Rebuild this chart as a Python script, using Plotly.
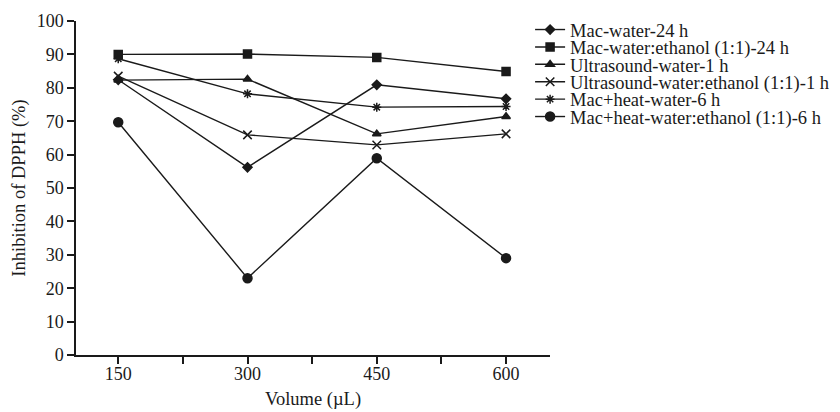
import plotly.graph_objects as go

volumes = [150, 300, 450, 600]
series_names = [
    "Mac-water-24 h",
    "Mac-water:ethanol (1:1)-24 h",
    "Ultrasound-water-1 h",
    "Ultrasound-water:ethanol (1:1)-1 h",
    "Mac+heat-water-6 h",
    "Mac+heat-water:ethanol (1:1)-6 h",
]
mac_water = [82.4, 56.2, 80.9, 76.7]
mac_water_ethanol = [90.0, 90.1, 89.1, 84.9]
us_water = [82.3, 82.6, 66.2, 71.4]
us_water_ethanol = [83.5, 65.9, 62.9, 66.2]
mac_heat_water = [88.7, 78.2, 74.2, 74.4]
mac_heat_water_ethanol = [69.7, 23.0, 58.9, 29.0]
values = [mac_water, mac_water_ethanol, us_water, us_water_ethanol,
          mac_heat_water, mac_heat_water_ethanol]

y_ticks = list(range(0, 101, 10))
x_ticks = [150, 225, 300, 375, 450, 525, 600]
x_ticktext = ["150", "", "300", "", "450", "", "600"]

symbols = ["diamond", "square", "triangle-up", "x-thin-open", "asterisk-open", "circle"]
sizes = [7, 8, 7.5, 8.5, 7.5, 9]

ink = "#1a1a1a"
font_family = "Liberation Serif, Times New Roman, serif"

# page body adds an 8px margin around the figure
fig_w, fig_h = 832, 404
m_l, m_r, m_t, m_b = 68, 290, 13, 57

fig = go.Figure()
legend_ids = ["legend"] + [f"legend{i}" for i in range(2, 7)]
for name, vals, sym, sz, lg in zip(series_names, values, symbols, sizes, legend_ids):
    fig.add_trace(go.Scatter(
        x=volumes, y=vals, name=name, mode="lines+markers",
        line=dict(color=ink, width=1.4),
        marker=dict(symbol=sym, size=sz, color=ink,
                    line=dict(color=ink, width=1.5)),
        legend=lg,
    ))

# one legend per entry so rows can sit as tightly as in the reference
plot_h = fig_h - m_t - m_b
row0 = 9.0
row_step = 17.4
legend_layouts = {}
for i, lg in enumerate(legend_ids):
    ypix = row0 + i * row_step
    legend_layouts[lg] = dict(
        x=0.958, y=1 - ypix / plot_h, xanchor="left", yanchor="middle",
        font=dict(family=font_family, size=18.5, color=ink),
        bgcolor="rgba(0,0,0,0)", borderwidth=0, itemwidth=30,
    )

fig.update_layout(
    width=fig_w, height=fig_h,
    margin=dict(l=m_l, r=m_r, t=m_t, b=m_b, autoexpand=False),
    paper_bgcolor="white", plot_bgcolor="white",
    font=dict(family=font_family, size=18, color=ink),
    showlegend=True,
    xaxis=dict(range=[101, 651], tickvals=x_ticks, ticktext=x_ticktext,
               showgrid=False, zeroline=False, showline=True, automargin=False,
               linecolor=ink, linewidth=1.5, ticks="outside",
               ticklen=7, tickwidth=1.5, tickcolor=ink,
               tickfont=dict(size=18), ticklabelstandoff=-5,
               title=dict(text="Volume (µL)", standoff=9,
                          font=dict(size=18.5))),
    yaxis=dict(range=[0, 100], tickvals=y_ticks,
               showgrid=False, zeroline=False, showline=True, automargin=False,
               linecolor=ink, linewidth=1.5, ticks="outside",
               ticklen=7, tickwidth=1.5, tickcolor=ink,
               tickfont=dict(size=18),
               title=dict(text="Inhibition of DPPH (%)", standoff=6,
                          font=dict(size=18.5))),
    **legend_layouts,
)

fig.write_html("out.html")
